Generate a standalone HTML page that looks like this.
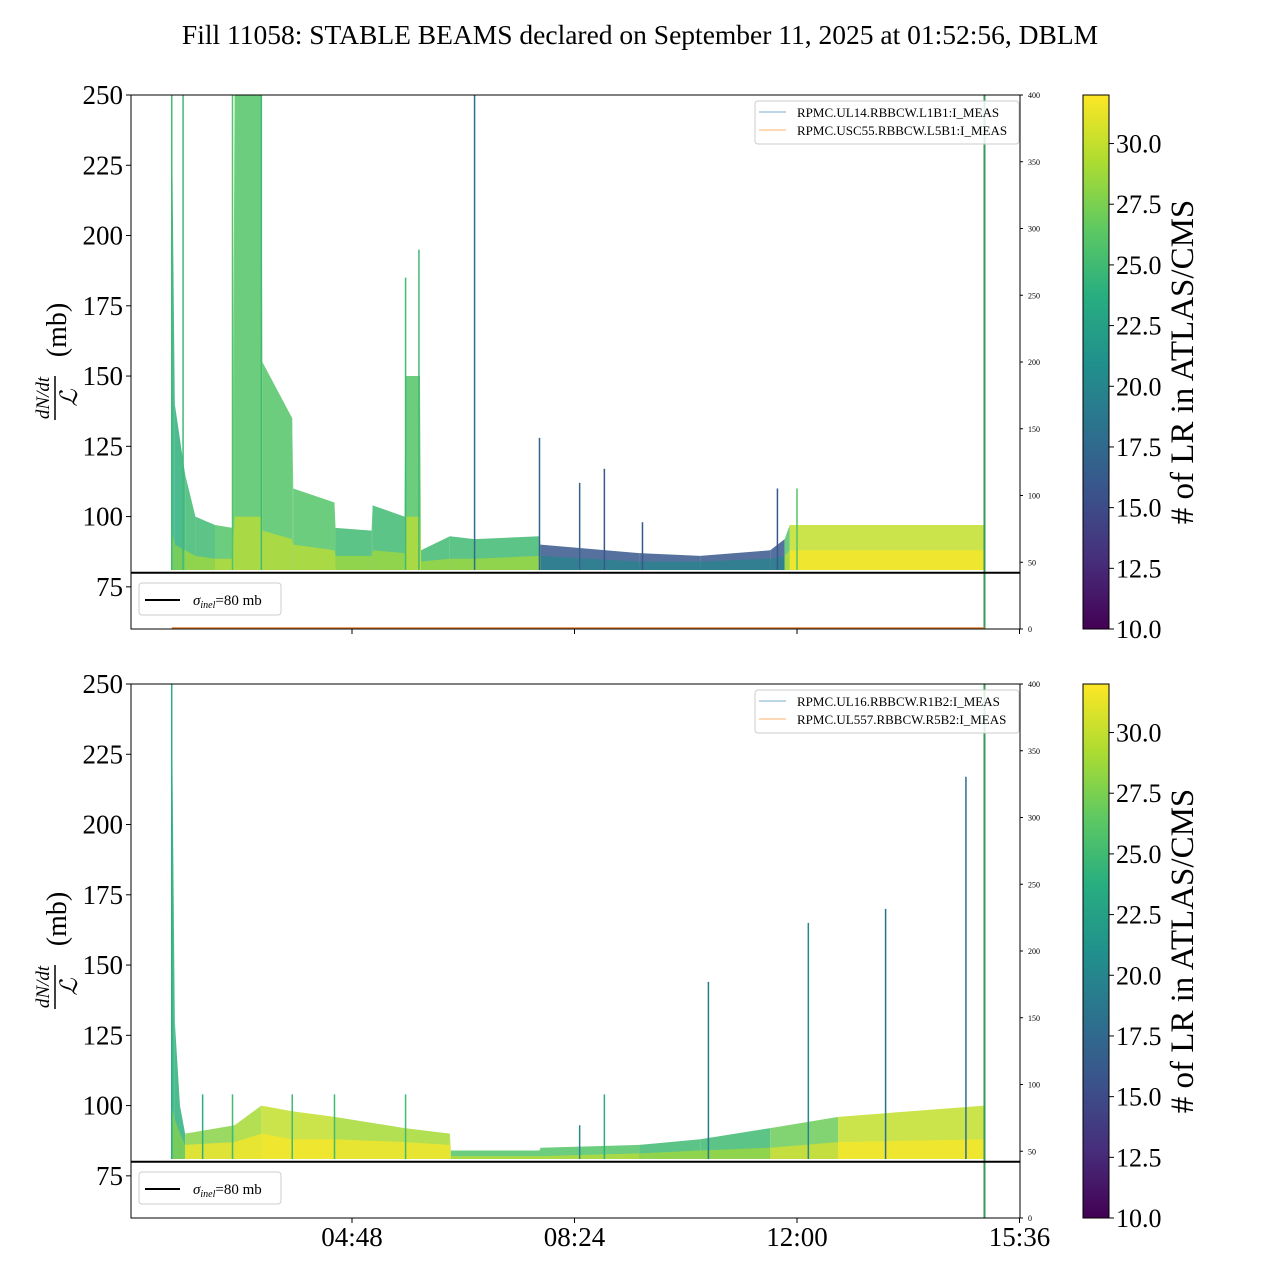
<!DOCTYPE html>
<html><head><meta charset="utf-8"><style>
body{margin:0;background:#fff;font-family:"Liberation Serif",serif}
svg text{font-family:"Liberation Serif",serif}
</style></head><body>
<svg id="fig" width="1280" height="1280" xmlns="http://www.w3.org/2000/svg">
<defs>
<linearGradient id="vir" x1="0" y1="1" x2="0" y2="0">
<stop offset="0" stop-color="#440154"/><stop offset="0.125" stop-color="#472d7b"/><stop offset="0.25" stop-color="#3b528b"/><stop offset="0.375" stop-color="#2c728e"/><stop offset="0.5" stop-color="#21918c"/><stop offset="0.625" stop-color="#28ae80"/><stop offset="0.75" stop-color="#5ec962"/><stop offset="0.875" stop-color="#addc30"/><stop offset="1" stop-color="#fde725"/>
</linearGradient>
</defs>
<text x="640" y="44" font-size="27.5" text-anchor="middle">Fill 11058: STABLE BEAMS declared on September 11, 2025 at 01:52:56, DBLM</text>
<g id="p0"></g>
<g id="p1"></g>
</svg>
<script>
// ---- data (time in minutes since midnight, values in mb) ----
const topT   = [113,116,126,136,155,172,174,200,201,230,231,271,272,307,308,339,340,354,355,383,407,470,471,567,626,694,708,713,902];
const topHi  = [250,140,115,100,97,96,250,250,155,135,110,105,96,95,104,100,150,150,88,93,92,93,90,87,86,88,92,97,97];
const topMid = [95,90,88,86,85,85,100,100,95,92,90,88,86,86,88,87,100,100,84,85,85,86,86,84,84,85,86,88,88];
const topC   = [24,24,25,25,26,26,26,27,26,26,26,26,25,25,25,25,26,27,25,25,25,25,16,16,16,16,26,30,30];
const topSpikeT = [113,124,172,200,340,353,407,470,509,533,570,701,720,902];
const topSpikeV = [250,250,250,250,185,195,250,128,112,117,98,110,110,250];
const topSpikeC = [25,25,26,25,25,25,18,17,17,16,16,16,26,24];

const botT   = [113,116,121,126,174,200,230,271,339,383,384,470,471,567,626,694,760,902];
const botHi  = [250,130,100,90,93,100,98,96,92,90,84,84,85,86,88,92,96,100];
const botMid = [100,95,90,86,87,90,88,88,87,86,82,82,82,83,84,85,87,88];
const botC   = [24,24,24,28,29,30,30,29,29,30,26,26,26,25,25,27,30,30];
const botSpikeT = [113,143,172,230,271,340,509,533,634,731,806,884,902];
const botSpikeV = [250,104,104,104,104,104,93,104,144,165,170,217,250];
const botSpikeC = [24,24,25,25,25,25,20,24,19,20,18,18,24];

const yTicks = [75,100,125,150,175,200,225,250];
const rTicks = [0,50,100,150,200,250,300,350,400];
const cTicks = [10.0,12.5,15.0,17.5,20.0,22.5,25.0,27.5,30.0];
const xTicks = [288,504,720,936];
const xLabels = ["04:48","08:24","12:00","15:36"];
const legends = [["RPMC.UL14.RBBCW.L1B1:I_MEAS","RPMC.USC55.RBBCW.L5B1:I_MEAS"],["RPMC.UL16.RBBCW.R1B2:I_MEAS","RPMC.UL557.RBBCW.R5B2:I_MEAS"]];

const NS="http://www.w3.org/2000/svg";
const vstops=[[0,[68,1,84]],[.125,[71,45,123]],[.25,[59,82,139]],[.375,[44,114,142]],[.5,[33,145,140]],[.625,[40,174,128]],[.75,[94,201,98]],[.875,[173,220,48]],[1,[253,231,37]]];
function viridis(v){let f=Math.max(0,Math.min(1,(v-10)/22));for(let i=1;i<vstops.length;i++){if(f<=vstops[i][0]){const a=vstops[i-1],b=vstops[i],u=(f-a[0])/(b[0]-a[0]);const c=a[1].map((x,k)=>Math.round(x+(b[1][k]-x)*u));return `rgb(${c})`;}}return "rgb(253,231,37)";}
function el(tag,attrs,parent){const e=document.createElementNS(NS,tag);for(const k in attrs)e.setAttribute(k,attrs[k]);parent.appendChild(e);return e;}
const X0=131,X1=1020;
const xs=t=>352+(t-288)*222.5/216;

function panel(g,top,T,Hi,Mid,C,ST,SV,SC,leg){
  const bot=top+534;
  const ys=v=>bot-(v-60)*534/190;
  const ry=v=>bot-v*534/400;
  const clip=el('clipPath',{id:'c'+top},g);
  el('rect',{x:X0,y:top,width:X1-X0,height:534},clip);
  const d=el('g',{'clip-path':`url(#c${top})`},g);
  for(let i=0;i<T.length-1;i++){
    const x1=xs(T[i]),x2=xs(T[i+1]);
    const p=el('polygon',{points:`${x1},${ys(81)} ${x1},${ys(Hi[i])} ${x2},${ys(Hi[i+1])} ${x2},${ys(81)}`,fill:viridis(C[i]),'fill-opacity':0.85},d);
    
    
    const q=el('polygon',{points:`${x1},${ys(81)} ${x1},${ys(Mid[i])} ${x2},${ys(Mid[i+1])} ${x2},${ys(81)}`,fill:viridis(Math.min(32,C[i]+4)),'fill-opacity':0.7},d);
    
    
  }
  for(let i=0;i<ST.length;i++){
    const s=el('line',{x1:xs(ST[i]),x2:xs(ST[i]),y1:ys(81),y2:ys(SV[i]),stroke:viridis(SC[i]),'stroke-width':1.5},d);
    
    
  }
  el('line',{x1:xs(902),x2:xs(902),y1:top,y2:bot,stroke:'#3a9a5a','stroke-width':2},d);
  if(top<300) el('line',{x1:xs(113),x2:xs(902),y1:bot-1,y2:bot-1,stroke:'#e08030','stroke-width':1.5},d);
  const ref=el('line',{x1:X0,x2:X1,y1:ys(80),y2:ys(80),stroke:'#000','stroke-width':2},g);
  
  
  el('rect',{x:X0,y:top,width:X1-X0,height:534,fill:'none',stroke:'#000','stroke-width':1},g);
  yTicks.forEach(v=>{el('line',{x1:X0-5,x2:X0,y1:ys(v),y2:ys(v),stroke:'#000'},g);
    const t=el('text',{x:X0-8,y:ys(v)+9,'font-size':27,'text-anchor':'end'},g);t.textContent=v;
    });
  rTicks.forEach(v=>{el('line',{x1:X1,x2:X1+3,y1:ry(v),y2:ry(v),stroke:'#000'},g);
    const t=el('text',{x:X1+8,y:ry(v)+3,'font-size':8},g);t.textContent=v;
    });
  xTicks.forEach((v,i)=>{el('line',{x1:xs(v),x2:xs(v),y1:bot,y2:bot+5,stroke:'#000'},g);
    if(top>300){const t=el('text',{x:xs(v),y:bot+28,'font-size':27,'text-anchor':'middle'},g);t.textContent=xLabels[i];
    }});
  const yt=el('g',{transform:`translate(57,${top+267}) rotate(-90)`},g);
  
  let a=el('text',{x:-36,y:-8,'font-size':19,'font-style':'italic','text-anchor':'middle'},yt);a.textContent='dN/dt';
  el('line',{x1:-58,x2:-14,y1:-2,y2:-2,stroke:'#000','stroke-width':1.5},yt);
  a=el('text',{x:-36,y:20,'font-size':24,'font-style':'italic','text-anchor':'middle'},yt);a.textContent='ℒ';
  a=el('text',{x:32,y:9,'font-size':28,'text-anchor':'middle'},yt);a.textContent='(mb)';
  const lg=el('g',{},g);
  el('rect',{x:755,y:top+6,width:264,height:43,rx:3,fill:'#fff','fill-opacity':0.85,stroke:'#ccc'},lg);
  el('line',{x1:759,x2:786,y1:top+17,y2:top+17,stroke:'#1f77b4','stroke-opacity':0.6},lg);
  el('line',{x1:759,x2:786,y1:top+35,y2:top+35,stroke:'#ff7f0e','stroke-opacity':0.6},lg);
  a=el('text',{x:797,y:top+22,'font-size':13},lg);a.textContent=leg[0];
  a=el('text',{x:797,y:top+40,'font-size':13},lg);a.textContent=leg[1];
  const sl=el('g',{},g);
  el('rect',{x:139,y:bot-46,width:142,height:32,rx:3,fill:'#fff',stroke:'#ccc'},sl);
  el('line',{x1:145,x2:180,y1:bot-29,y2:bot-29,stroke:'#000','stroke-width':2},sl);
  a=el('text',{x:193,y:bot-24,'font-size':15},sl);
  a.innerHTML='<tspan font-style="italic">σ</tspan><tspan font-style="italic" font-size="10" dy="3">inel</tspan><tspan dy="-3">=80 mb</tspan>';
  const cb=el('g',{},g);
  el('rect',{x:1083,y:top,width:26,height:534,fill:'url(#vir)',stroke:'#000'},cb);
  const cy=v=>bot-(v-10)*534/22;
  cTicks.forEach(v=>{el('line',{x1:1109,x2:1114,y1:cy(v),y2:cy(v),stroke:'#000'},cb);
    const t=el('text',{x:1116,y:cy(v)+9,'font-size':26},cb);t.textContent=v.toFixed(1);});
  const ct=el('text',{x:0,y:0,'font-size':33,'text-anchor':'middle',transform:`translate(1193,${top+267}) rotate(-90)`},cb);
  ct.textContent='# of LR in ATLAS/CMS';
}
panel(document.getElementById('p0'),95,topT,topHi,topMid,topC,topSpikeT,topSpikeV,topSpikeC,legends[0]);
panel(document.getElementById('p1'),684,botT,botHi,botMid,botC,botSpikeT,botSpikeV,botSpikeC,legends[1]);
</script>
</body></html>
